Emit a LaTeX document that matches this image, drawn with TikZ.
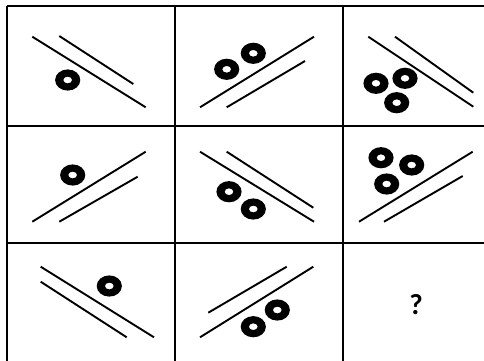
\documentclass[tikz,border=0pt]{standalone}
\usepackage{fontspec}
\newfontfamily\qfont{Carlito}
\tikzset{
  grid line/.style={line width=2pt, black},
  bar/.style={line width=1.9pt, black},
  donut/.pic={\fill[black, even odd rule] (0,0) ellipse [x radius=12.6pt, y radius=10.6pt] (0,0) ellipse [x radius=4.4pt, y radius=3.4pt];}
}
\begin{document}
\begin{tikzpicture}[x=1pt, y=-1pt]
\useasboundingbox (0,0) rectangle (484,360);
\fill[white] (0,0) rectangle (484,360);
\clip (0,0) rectangle (484,360);
% grid
\draw[grid line] (7,6) -- (511,6);
\draw[grid line] (7,126) -- (511,126);
\draw[grid line] (7,243) -- (511,243);
\draw[grid line] (7,6) -- (7,362);
\draw[grid line] (175,6) -- (175,362);
\draw[grid line, line width=2.6pt] (343,6) -- (343,362);
% cell 1
\draw[bar] (32.3,36.7) -- (145.7,107.3);
\draw[bar] (59.3,36) -- (133.3,84);
\pic at (67.7,80) {donut};
% cell 2
\draw[bar] (200,107.3) -- (314,36.7);
\draw[bar] (226.7,107.3) -- (305,61);
\pic at (226.7,69.3) {donut};
\pic at (253.3,53.3) {donut};
% cell 3
\draw[bar] (368.3,36.7) -- (473.3,106.7);
\draw[bar] (395,36.7) -- (473.3,92.7);
\pic at (376,83.3) {donut};
\pic at (405,78.3) {donut};
\pic at (396.7,102.7) {donut};
% cell 4
\draw[bar] (32.3,221.7) -- (145.7,151.7);
\draw[bar] (59.3,221.7) -- (137.7,176.7);
\pic at (72.7,175) {donut};
% cell 5
\draw[bar] (200,151.7) -- (314,221.7);
\draw[bar] (226.7,151.7) -- (313.3,207.7);
\pic at (229,191.7) {donut};
\pic at (253.3,209) {donut};
% cell 6
\draw[bar] (359,221.7) -- (472.7,151.7);
\draw[bar] (384,221.7) -- (462.7,176);
\pic at (381,157.7) {donut};
\pic at (411.7,165) {donut};
\pic at (386.7,184) {donut};
% cell 7
\draw[bar] (40.7,266.7) -- (154,337.3);
\draw[bar] (40.7,281.7) -- (126.7,337.3);
\pic at (109.3,286) {donut};
% cell 8
\draw[bar] (208.3,312.7) -- (286.7,266.7);
\draw[bar] (200,337.3) -- (313.3,266.7);
\pic at (253.3,326.7) {donut};
\pic at (277.3,310) {donut};
% cell 9
\node[font=\qfont\bfseries\fontsize{29pt}{31pt}\selectfont, inner sep=0pt] (q) at (416,305) {?};
\end{tikzpicture}
\end{document}
